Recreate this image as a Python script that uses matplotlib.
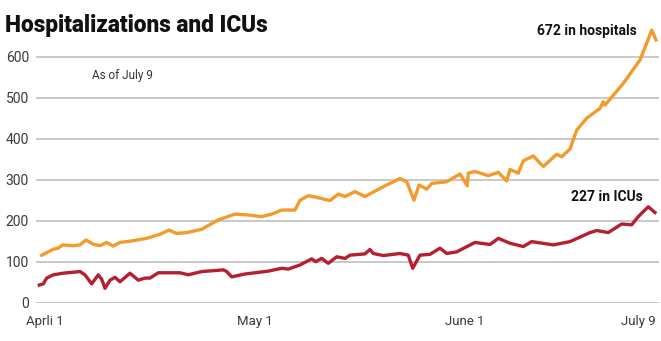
import matplotlib
matplotlib.use("Agg")
import matplotlib.pyplot as plt

# hospitalizations (x = days since April 1)
hosp_day = [0.43, 2.24, 3.04, 3.85, 5.45, 6.57, 7.53, 8.65, 9.78, 10.85, 11.86, 12.98,
            14.58, 17.26, 19.39, 20.83, 22.07, 23.67, 26.07, 28.73, 31.41, 33.54, 35.69,
            37.29, 38.89, 41.03, 41.83, 43.16, 44.76, 46.63, 47.96, 49.04, 50.64, 52.24,
            55.18, 57.85, 58.93, 60.10, 60.90, 62.13, 62.93, 65.34, 67.47, 68.64, 68.80,
            69.87, 72.00, 73.61, 74.95, 75.48, 76.81, 77.61, 79.21, 80.82, 82.96, 83.76,
            85.10, 86.17, 87.77, 89.90, 90.43, 90.71, 93.64, 96.31, 97.39, 98.19, 98.88]
hosp = [116, 130, 133, 141, 139, 141, 153, 143, 139, 147, 138, 147,
        150, 157, 167, 177, 169, 171, 179, 202, 216, 214, 210,
        216, 226, 226, 250, 261, 256, 249, 265, 259, 271, 259,
        283, 303, 295, 250, 287, 277, 291, 295, 314, 285, 316,
        320, 310, 318, 297, 325, 316, 346, 358, 332, 362, 356,
        375, 421, 450, 474, 490, 482, 535, 592, 633, 665, 641]

# ICU
icu_day = [0.05, 0.69, 1.23, 2.29, 3.89, 6.57, 7.37, 8.44, 9.50, 10.05, 10.58, 11.38,
           12.18, 12.98, 14.58, 15.91, 16.99, 17.79, 19.12, 22.60, 23.93, 26.07, 29.54,
           30.08, 30.88, 33.01, 36.75, 38.89, 39.95, 41.83, 43.70, 44.34, 45.30, 46.36,
           47.71, 49.04, 49.84, 52.24, 53.04, 53.57, 55.18, 57.85, 59.18, 59.89, 61.06,
           62.66, 64.26, 65.34, 66.94, 69.87, 72.28, 73.61, 75.48, 77.61, 78.96, 82.42,
           85.10, 88.30, 89.38, 91.23, 93.38, 94.98, 96.04, 97.64, 98.72]
icu = [43, 46, 60, 68, 72, 76, 68, 46, 68, 57, 35, 55,
       62, 51, 72, 55, 60, 60, 73, 73, 68, 76, 80,
       76, 63, 70, 77, 84, 82, 92, 107, 100, 108, 96,
       112, 108, 116, 119, 130, 120, 115, 120, 116, 84, 116,
       118, 133, 120, 124, 147, 142, 157, 145, 137, 149, 141,
       149, 171, 176, 171, 192, 190, 210, 234, 220]

yticks = [0, 100, 200, 300, 400, 500, 600]
xtick_pos = [1.0, 34.6, 68.3, 96.0]
xtick_labels = ["Aprli 1", "May 1", "June 1", "July 9"]

W, H = 661, 341
fig = plt.figure(figsize=(W / 100, H / 100), dpi=100)
ax = fig.add_axes([36 / W, 38.3 / H, 623 / W, 278.8 / H])
ax.set_xlim(-0.48, 99.36)
ax.set_ylim(0, 680)

for s in ax.spines.values():
    s.set_visible(False)
ax.set_yticks(yticks)
ax.set_xticks(xtick_pos)
ax.set_xticklabels(xtick_labels)
ax.tick_params(length=0, labelcolor="#3a3a3a")
ax.tick_params(axis="y", pad=5, labelsize=10)
ax.tick_params(axis="x", pad=9, labelsize=9.5)
for lab in ax.get_xticklabels() + ax.get_yticklabels():
    lab.set_family("Roboto")
    lab.set_stretch("normal")
ax.grid(axis="y", color="#c8c8c8", linewidth=1.4)
ax.set_axisbelow(True)

ax.plot(hosp_day, hosp, color="#f29a2b", linewidth=2.4, solid_joinstyle="round")
ax.plot(icu_day, icu, color="#b61f2f", linewidth=2.4, solid_joinstyle="round")

fig.text(5 / W, 1 - 32 / H, "Hospitalizations and ICUs", family="Roboto",
         fontstretch="condensed", fontweight="black", fontsize=16.3,
         color="#111111", va="baseline")
fig.text(92 / W, 1 - 75 / H, "As of July 9", family="Roboto", fontstretch="normal",
         fontsize=8.5, color="#333333", va="center")
fig.text(637 / W, 1 - 31 / H, "672 in hospitals", family="Roboto", fontstretch="normal",
         fontweight="bold", fontsize=10, color="#111111", ha="right", va="center")
fig.text(643 / W, 1 - 197 / H, "227 in ICUs", family="Roboto", fontstretch="normal",
         fontweight="bold", fontsize=10, color="#111111", ha="right", va="center")

fig.savefig("out.png", dpi=100)
